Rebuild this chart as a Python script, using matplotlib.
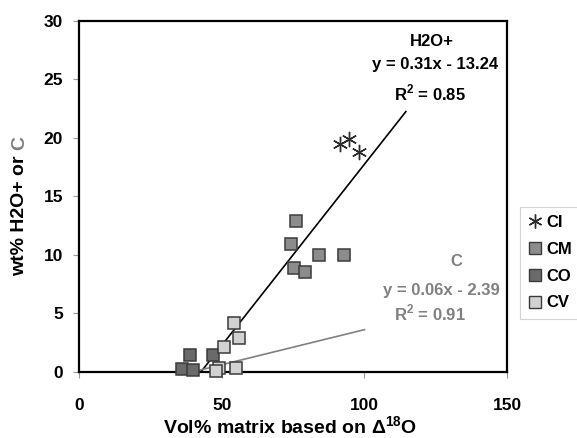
"""Water / carbon content vs. matrix fraction, with Excel-style linear trendlines."""

import matplotlib
matplotlib.use("Agg")
import matplotlib.pyplot as plt
from matplotlib.lines import Line2D

plt.rcParams["font.family"] = ["Liberation Sans", "DejaVu Sans"]
plt.rcParams["font.weight"] = "bold"
plt.rcParams["mathtext.fontset"] = "custom"
plt.rcParams["mathtext.rm"] = "Liberation Sans:bold"
plt.rcParams["mathtext.bf"] = "Liberation Sans:bold"

# chondrite groups: vol% matrix (x) vs wt% (y)
ci_x = [91.5, 94.5, 98.0]
ci_y = [19.5, 19.9, 18.8]
cm_x = [76.1, 74.1, 84.0, 92.8, 75.3, 79.3]
cm_y = [12.9, 10.9, 10.0, 10.0, 8.9, 8.5]
co_x = [38.8, 47.0, 36.1, 40.0]
co_y = [1.45, 1.45, 0.26, 0.17]
cv_x = [54.3, 56.0, 50.7, 49.1, 47.9, 55.1]
cv_y = [4.16, 2.88, 2.16, 0.37, 0.10, 0.37]

# trendlines: slope, intercept, x range, R^2
h2o_fit = (0.31, -13.24)
h2o_range = (42.7, 114.5)
h2o_r2 = 0.85
c_fit = (0.06, -2.39)
c_range = (39.8, 100.0)
c_r2 = 0.91

GREY = "#808080"
EDGE = "#3a3a3a"

fig = plt.figure(figsize=(5.77, 4.38), dpi=100)
ax = fig.add_axes([0.137, 0.151, 0.742, 0.801])

for (m, b), (x0, x1), col in [(h2o_fit, h2o_range, "black"), (c_fit, c_range, GREY)]:
    ax.plot([x0, x1], [m * x0 + b, m * x1 + b], color=col, lw=1.2, zorder=2)

sq = dict(marker="s", ms=8, mec=EDGE, mew=1.1, ls="none", clip_on=False, zorder=4)
ax.plot(cm_x, cm_y, mfc="#8c8c8c", **sq)
ax.plot(co_x, co_y, mfc="#6a6a6a", **sq)
ax.plot(cv_x, cv_y, mfc="#d2d2d2", **sq)
ax.plot(ci_x, ci_y, marker=(6, 2, 0), ms=11, mec="#2a2a2a", mew=1.0,
        ls="none", zorder=4)

ax.set_xlim(0, 150)
ax.set_ylim(0, 30)
ax.set_xticks([0, 50, 100, 150])
ax.set_yticks(range(0, 31, 5))
for s in ax.spines.values():
    s.set_linewidth(1.6)
ax.tick_params(axis="both", direction="out", color="#999999", width=0.8,
               length=4, labelsize=12.5)
ax.tick_params(axis="x", pad=14.5)
ax.tick_params(axis="y", pad=7.5)

# trendline labels
fs = 12
ax.text(432 / 577, 1 - 42 / 438, "H2O+", transform=fig.transFigure,
        ha="center", va="center", fontsize=fs)
ax.text(498 / 577, 1 - 65 / 438, "y = %.2fx - %.2f" % (h2o_fit[0], -h2o_fit[1]),
        transform=fig.transFigure, ha="right", va="center", fontsize=fs)
ax.text(430 / 577, 1 - 93 / 438, "R$^{2}$ = %.2f" % h2o_r2, transform=fig.transFigure,
        ha="center", va="center", fontsize=fs)
ax.text(456 / 577, 1 - 262 / 438, "C", transform=fig.transFigure,
        ha="center", va="center", fontsize=fs, color=GREY)
ax.text(500 / 577, 1 - 290 / 438, "y = %.2fx - %.2f" % (c_fit[0], -c_fit[1]),
        transform=fig.transFigure, ha="right", va="center", fontsize=fs, color=GREY)
ax.text(430 / 577, 1 - 313 / 438, "R$^{2}$ = %.2f" % c_r2, transform=fig.transFigure,
        ha="center", va="center", fontsize=fs, color=GREY)

# axis labels ("C" on the y label is grey)
fig.text(290 / 577, 1 - 434 / 438, r"Vol% matrix based on $\Delta^{18}$O",
         ha="center", va="baseline", fontsize=14)
yl = fig.text(20 / 577, 1 - 276 / 438, "wt% H2O+ or ", rotation=90,
              ha="center", va="bottom", fontsize=14)
ax.annotate("C", xy=(0.5, 1.0), xycoords=yl, rotation=90, ha="center",
            va="bottom", fontsize=14, color=GREY)

handles = [
    Line2D([], [], marker=(6, 2, 0), ms=10, mec="#2a2a2a", mew=1.0, ls="none"),
    Line2D([], [], marker="s", ms=8, mfc="#8c8c8c", mec=EDGE, mew=1.0, ls="none"),
    Line2D([], [], marker="s", ms=8, mfc="#6a6a6a", mec=EDGE, mew=1.0, ls="none"),
    Line2D([], [], marker="s", ms=8, mfc="#d2d2d2", mec=EDGE, mew=1.0, ls="none"),
]
leg = fig.legend(handles, ["CI", "CM", "CO", "CV"], loc="upper left",
                 bbox_to_anchor=(520 / 577, 1 - 207 / 438), borderaxespad=0,
                 fontsize=12, frameon=True, fancybox=False, handlelength=0.8,
                 handletextpad=0.3, labelspacing=0.7, borderpad=0.5)
leg.get_frame().set_edgecolor("#c8c8c8")
leg.get_frame().set_linewidth(0.8)

fig.savefig("out.png", dpi=100)
